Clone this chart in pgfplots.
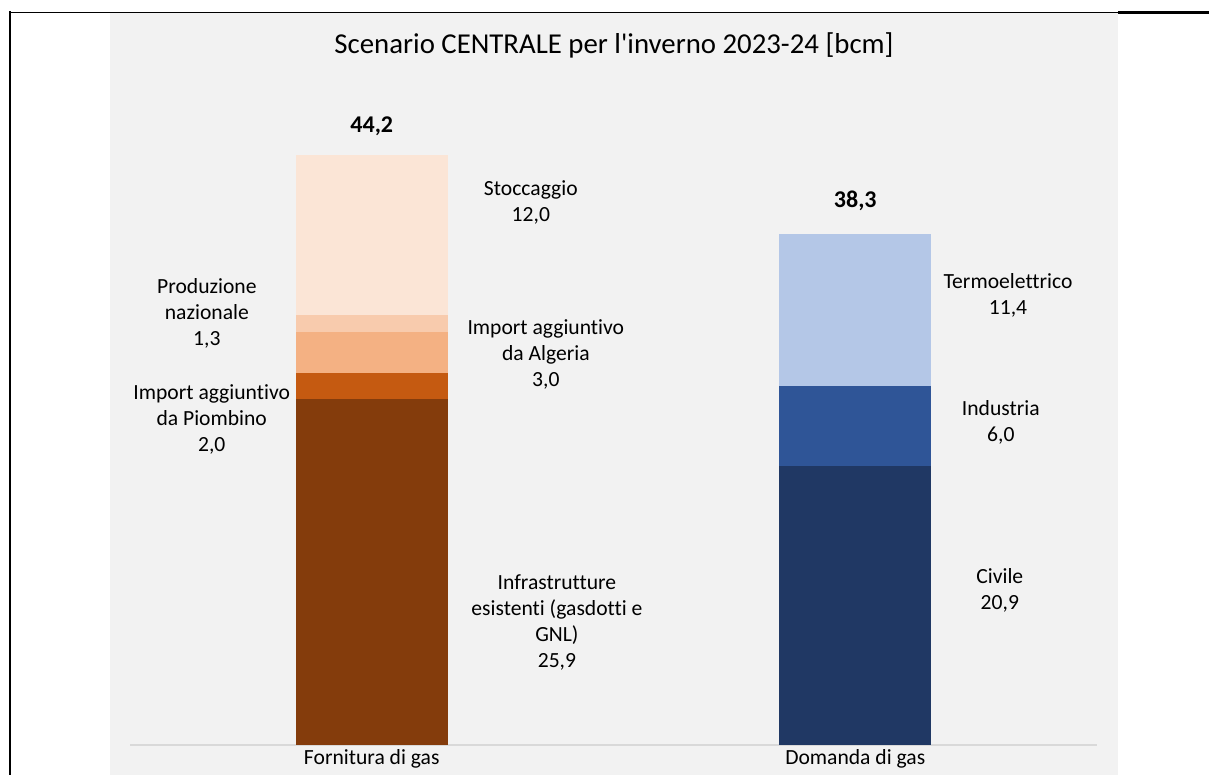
\documentclass[border=0pt]{standalone}
\usepackage{pgfplots}
\pgfplotsset{compat=1.18}
\usepackage{fontspec}
\setmainfont{Carlito}[Ligatures=NoCommon]
\definecolor{bg}{HTML}{F2F2F2}
\definecolor{axgray}{HTML}{D9D9D9}
\definecolor{cInfra}{HTML}{843C0C}
\definecolor{cPiomb}{HTML}{C55A11}
\definecolor{cAlg}{HTML}{F4B183}
\definecolor{cProd}{HTML}{F8CBAD}
\definecolor{cStoc}{HTML}{FBE5D6}
\definecolor{cCiv}{HTML}{203864}
\definecolor{cInd}{HTML}{2F5597}
\definecolor{cTerm}{HTML}{B4C7E7}
\tikzset{lab/.style={align=center, font=\fontsize{10.8}{13}\selectfont, inner sep=0pt}}
\begin{document}
\begin{tikzpicture}
\path[use as bounding box] (-65pt,-15pt) rectangle (539.5pt,372.5pt);
\fill[bg] (-10pt,-15pt) rectangle (494pt,366pt);
\draw[black,line width=0.9pt] (-60pt,366.25pt) -- (494pt,366.25pt);
\draw[black,line width=1.5pt] (494pt,366pt) -- (539.5pt,366pt);
\draw[black,line width=1.2pt] (-60pt,366.8pt) -- (-60pt,-15pt);
\node[font=\fontsize{14.4}{16}\selectfont] at (242pt,350pt) {Scenario CENTRALE per l\textquotesingle inverno 2023-24 [bcm]};
\begin{axis}[
  at={(0,0)}, anchor=south west,
  scale only axis, width=483.5pt, height=333.75pt,
  xmin=-0.5, xmax=1.5, ymin=0, ymax=50,
  ybar stacked, bar width=76pt,
  axis y line=none, axis x line*=bottom,
  x axis line style={-, draw=axgray, line width=0.6pt},
  xtick={0,1}, xticklabels={Fornitura di gas, Domanda di gas},
  major tick length=0pt, xtick style={draw=none},
  xticklabel style={font=\fontsize{10.8}{13}\selectfont, inner sep=2pt},
  clip=false,
]
\addplot[fill=cInfra, draw=none] coordinates {(0,25.9) (1,0)};
\addplot[fill=cPiomb, draw=none] coordinates {(0,2.0) (1,0)};
\addplot[fill=cAlg, draw=none] coordinates {(0,3.0) (1,0)};
\addplot[fill=cProd, draw=none] coordinates {(0,1.3) (1,0)};
\addplot[fill=cStoc, draw=none] coordinates {(0,12.0) (1,0)};
\addplot[fill=cCiv, draw=none] coordinates {(0,0) (1,20.9)};
\addplot[fill=cInd, draw=none] coordinates {(0,0) (1,6.0)};
\addplot[fill=cTerm, draw=none] coordinates {(0,0) (1,11.4)};

\node[lab, font=\fontsize{12}{14}\selectfont\bfseries] at (axis cs:0,46.37) {44,2};
\node[lab, font=\fontsize{12}{14}\selectfont\bfseries] at (axis cs:1,40.75) {38,3};
\node[lab] at (axis cs:0.329,40.67) {Stoccaggio\\12,0};
\node[lab] at (axis cs:-0.341,32.36) {Produzione\\nazionale\\1,3};
\node[lab] at (axis cs:0.360,29.29) {Import aggiuntivo\\da Algeria\\3,0};
\node[lab] at (axis cs:-0.331,24.42) {Import aggiuntivo\\da Piombino\\2,0};
\node[lab] at (axis cs:0.383,9.21) {Infrastrutture\\esistenti (gasdotti e\\GNL)\\25,9};
\node[lab] at (axis cs:1.316,33.71) {Termoelettrico\\11,4};
\node[lab] at (axis cs:1.301,24.16) {Industria\\6,0};
\node[lab] at (axis cs:1.299,11.61) {Civile\\20,9};
\end{axis}
\end{tikzpicture}
\end{document}
